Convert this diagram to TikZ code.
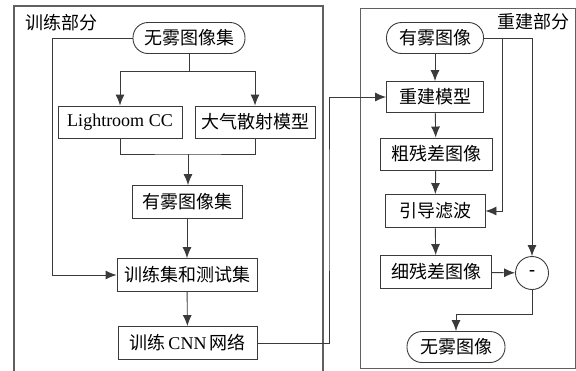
\documentclass[tikz,border=0pt]{standalone}
\usepackage{fontspec}
\setmainfont{Liberation Serif}
\newfontfamily\cjk{Noto Sans CJK SC}
\usetikzlibrary{arrows.meta,calc}
\definecolor{ln}{HTML}{3A3A3A}
\definecolor{fr}{HTML}{606060}
\tikzset{
  box/.style={draw=ln, line width=0.9pt, rectangle, inner sep=0pt, align=center,
    font=\fontsize{18}{21}\selectfont, text=black},
  pill/.style={box, rounded corners=15pt},
  arr/.style={draw=ln, line width=0.9pt, -{Latex[length=11pt,width=9pt]}},
  con/.style={draw=ln, line width=0.9pt},
  frame/.style={draw=fr, line width=1.2pt},
  lbl/.style={font=\fontsize{18}{21}\selectfont, text=black, inner sep=0pt}
}
\begin{document}
\begin{tikzpicture}[x=1pt,y=-1pt]
\useasboundingbox (0,0) rectangle (576,370);
\clip (0,0) rectangle (576,370);
% frames
\draw[frame] (14,6) rectangle (323,385);
\draw[frame, line width=0.8pt] (360,8) rectangle (575.5,368);
\node[lbl] (t1) at (61,23) {\cjk 训练部分};
\node[lbl] (t2) at (533,22) {\cjk 重建部分};
% left nodes
\node[pill, minimum width=112pt, minimum height=31pt] (A) at (189,38) {\cjk 无雾图像集};
\node[box, minimum width=124pt, minimum height=32pt] (B) at (120,122) {Lightroom CC};
\node[box, minimum width=120pt, minimum height=32pt] (C) at (255,122) {\cjk 大气散射模型};
\node[box, minimum width=110pt, minimum height=33pt] (D) at (187,202) {\cjk 有雾图像集};
\node[box, minimum width=140pt, minimum height=33pt] (E) at (187,275) {\cjk 训练集和测试集};
\node[box, minimum width=139pt, minimum height=33pt] (F) at (187.5,343) {{\cjk 训练}\,CNN\,{\cjk 网络}};
% right nodes
\node[pill, minimum width=97pt, minimum height=31pt] (G) at (435,38) {\cjk 有雾图像};
\node[box, minimum width=97pt, minimum height=31pt] (H) at (435,97) {\cjk 重建模型};
\node[box, minimum width=112pt, minimum height=32pt] (I) at (436,154) {\cjk 粗残差图像};
\node[box, minimum width=100pt, minimum height=33pt] (J) at (435,211) {\cjk 引导滤波};
\node[box, minimum width=111pt, minimum height=33pt] (K) at (436,272) {\cjk 细残差图像};
\node[box, circle, minimum size=33pt, font=\fontsize{18}{21}\selectfont\bfseries] (M) at (532,273) {-};
\node[pill, minimum width=98pt, minimum height=31pt] (N) at (456,347) {\cjk 无雾图像};
% coordinates
\coordinate (s1) at (189,71);
\coordinate (m1) at (188,154);
\coordinate (l1) at (52,38);
\coordinate (r1) at (329,200);
\coordinate (g1) at (502,38);
\coordinate (n1) at (456,314);
% left connectors
\draw[con] (A.south) -- (s1);
\draw[arr] (s1) -| (B.north);
\draw[arr] (s1) -| (C.north);
\draw[con] (B.south) |- (m1) -| (C.south);
\draw[arr] (m1) -- (m1 |- D.north);
\draw[arr] (D) -- (E);
\draw[arr] (E) -- (F);
\draw[arr] (A.west) -- (l1) |- (E.west);
\draw[arr] (F.east) -| (r1) |- (H.west);
% right connectors
\draw[arr] (G) -- (H);
\draw[arr] (H) -- (I);
\draw[arr] (I) -- (J);
\draw[arr] (J) -- (K);
\draw[arr] (K) -- (M);
\draw[arr] (G.east) -| (M.north);
\draw[arr] (g1) |- (J.east);
\draw[arr] (M.south) |- (n1) -- (N.north);
\end{tikzpicture}
\end{document}
